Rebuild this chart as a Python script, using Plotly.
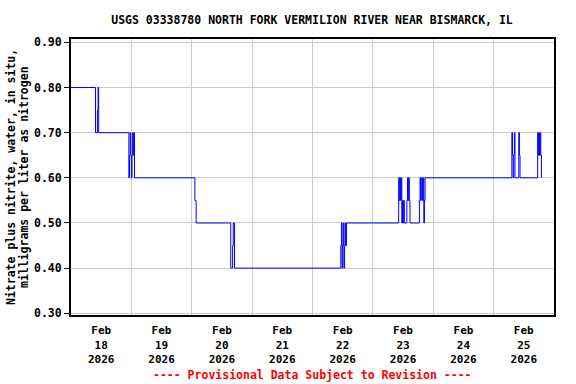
import plotly.graph_objects as go

# Transition points of the nitrate+nitrite series (mg/L as N)
times = [
    "2026-02-18 00:00", "2026-02-18 09:45", "2026-02-18 10:30", "2026-02-18 10:45", "2026-02-18 11:00",
    "2026-02-18 23:00", "2026-02-18 23:15", "2026-02-18 23:30", "2026-02-18 23:45", "2026-02-19 00:00",
    "2026-02-19 00:15", "2026-02-19 00:30", "2026-02-19 00:45", "2026-02-19 01:00", "2026-02-19 01:15",
    "2026-02-20 01:15", "2026-02-20 01:45",
    "2026-02-20 15:30", "2026-02-20 16:15", "2026-02-20 16:30", "2026-02-20 17:00",
    "2026-02-22 11:15", "2026-02-22 11:30", "2026-02-22 11:45", "2026-02-22 12:00", "2026-02-22 12:15",
    "2026-02-22 12:30", "2026-02-22 12:45", "2026-02-22 13:00", "2026-02-22 13:15", "2026-02-22 13:30",
    "2026-02-23 10:15", "2026-02-23 10:30", "2026-02-23 10:45", "2026-02-23 11:00", "2026-02-23 11:15",
    "2026-02-23 11:30", "2026-02-23 11:45", "2026-02-23 12:00", "2026-02-23 12:15", "2026-02-23 12:30",
    "2026-02-23 13:30", "2026-02-23 13:45", "2026-02-23 14:00", "2026-02-23 14:15", "2026-02-23 14:30",
    "2026-02-23 14:45",
    "2026-02-23 18:30", "2026-02-23 18:45", "2026-02-23 19:00", "2026-02-23 19:15", "2026-02-23 19:45",
    "2026-02-23 20:00", "2026-02-23 20:15", "2026-02-23 20:30", "2026-02-23 20:45",
    "2026-02-25 07:15", "2026-02-25 07:30", "2026-02-25 07:45", "2026-02-25 08:00", "2026-02-25 08:15",
    "2026-02-25 08:30",
    "2026-02-25 10:00", "2026-02-25 10:15", "2026-02-25 10:30",
    "2026-02-25 17:30", "2026-02-25 17:45", "2026-02-25 18:00", "2026-02-25 18:15", "2026-02-25 18:30",
    "2026-02-25 18:45", "2026-02-25 19:00",
]
values = [
    0.80, 0.70, 0.75, 0.80, 0.70,
    0.60, 0.65, 0.70, 0.65, 0.60,
    0.65, 0.70, 0.65, 0.70, 0.60,
    0.55, 0.50,
    0.40, 0.45, 0.50, 0.40,
    0.45, 0.50, 0.40, 0.45, 0.50,
    0.40, 0.45, 0.50, 0.45, 0.50,
    0.60, 0.55, 0.60, 0.55, 0.60,
    0.50, 0.55, 0.50, 0.55, 0.50,
    0.55, 0.60, 0.55, 0.60, 0.55,
    0.50,
    0.55, 0.60, 0.55, 0.60, 0.55,
    0.60, 0.50, 0.55, 0.60,
    0.70, 0.65, 0.60, 0.65, 0.70,
    0.60,
    0.70, 0.65, 0.60,
    0.70, 0.65, 0.70, 0.65, 0.70,
    0.65, 0.60,
]

tick_dates = ["2026-02-%02d 12:00" % d for d in range(18, 26)]
tick_labels = ["Feb<br>%d<br>2026" % d for d in range(18, 26)]
grid_dates = ["2026-02-%02d 00:00" % d for d in range(18, 27)]
y_ticks = [0.30, 0.40, 0.50, 0.60, 0.70, 0.80, 0.90]

title_text = "USGS 03338780 NORTH FORK VERMILION RIVER NEAR BISMARCK, IL"
ytitle_1 = "Nitrate plus nitrite, water, in situ,"
ytitle_2 = "milligrams per liter as nitrogen"
footer = "---- Provisional Data Subject to Revision ----"

FONT = "DejaVu Sans Mono"
fnt = dict(family=FONT, size=11.5, color="black", weight="bold")

fig = go.Figure()
fig.add_trace(go.Scatter(
    x=times, y=values, mode="lines", line=dict(color="#0000ff", width=1, shape="hv"),
    showlegend=False, hoverinfo="x+y",
))

fig.update_layout(
    width=576, height=384,
    margin=dict(l=71, r=22, t=39, b=69),
    paper_bgcolor="white", plot_bgcolor="white",
    title=dict(text=title_text, x=312 / 576, xanchor="center", y=1 - 19.5 / 384, yanchor="middle",
               font=fnt),
    font=fnt,
    showlegend=False,
)

fig.update_xaxes(
    type="date",
    range=["2026-02-18 00:00", "2026-02-26 00:00"],
    tickmode="array", tickvals=tick_dates, ticktext=tick_labels,
    ticks="", showgrid=False, ticklabelstandoff=4,
    tickfont=dict(family=FONT, size=11, color="black", weight="bold"),
    minor=dict(tickmode="array", tickvals=grid_dates, showgrid=True, gridcolor="#cccccc", gridwidth=1, ticks=""),
    showline=True, linecolor="black", linewidth=2, mirror=True,
    zeroline=False,
)
fig.update_yaxes(
    range=[0.2962, 0.9075],
    tickmode="array", tickvals=y_ticks, ticktext=["%.2f" % v for v in y_ticks],
    ticks="outside", ticklen=5, tickcolor="black", tickwidth=1,
    showgrid=True, gridcolor="#cccccc", gridwidth=1,
    tickfont=dict(family=FONT, size=11.5, color="black", weight="bold"),
    showline=True, linecolor="black", linewidth=2, mirror=True,
    zeroline=False,
)

fig.add_annotation(text=ytitle_1, xref="paper", yref="paper", x=0, y=0.5, xshift=-60,
                   xanchor="center", yanchor="middle", textangle=-90, showarrow=False, font=fnt)
fig.add_annotation(text=ytitle_2, xref="paper", yref="paper", x=0, y=0.5, xshift=-47,
                   xanchor="center", yanchor="middle", textangle=-90, showarrow=False, font=fnt)
fig.add_annotation(text=footer, xref="paper", yref="paper", x=0.5, y=0, yshift=-60,
                   xanchor="center", yanchor="middle", showarrow=False,
                   font=dict(family=FONT, size=11.5, color="#ff0000", weight="bold"))

fig.write_html("out.html", config={"displayModeBar": False},
               post_script="document.body.style.margin='0';document.body.style.padding='0';")
